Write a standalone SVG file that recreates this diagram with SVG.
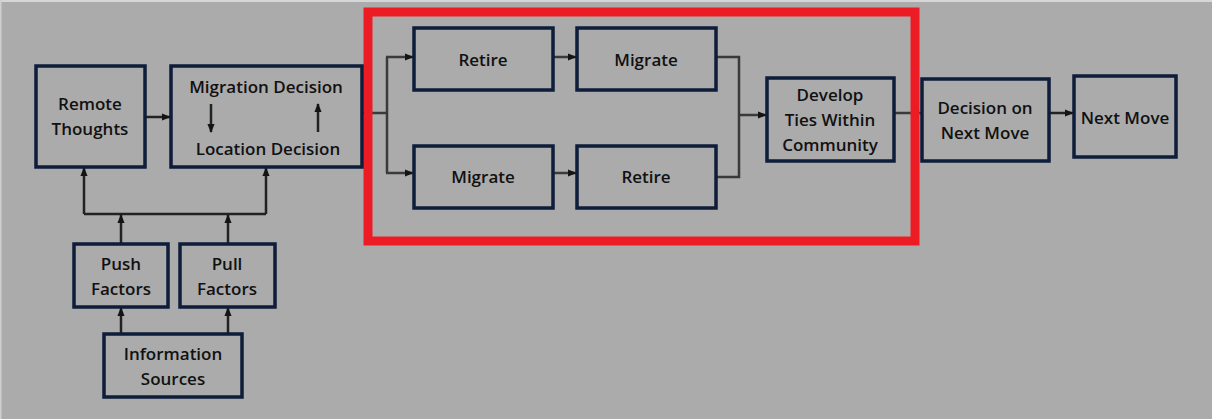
<svg xmlns="http://www.w3.org/2000/svg" width="1212" height="419" viewBox="0 0 1212 419">
  <defs>
    <marker id="arrow" viewBox="0 0 10 10" refX="9" refY="5" markerWidth="9" markerHeight="9" markerUnits="userSpaceOnUse" orient="auto">
      <path d="M0,1 L10,5 L0,9 Z" fill="#141414"/>
    </marker>
    <style>
      .box { fill: none; stroke: #0e1d3a; stroke-width: 3.5; }
      .lbl { font-family: "Open Sans", "Liberation Sans", sans-serif; font-weight: 600; font-size: 17px; fill: #111111; text-anchor: middle; }
      .wire { fill: none; stroke: #222222; stroke-width: 2.5; }
      .wire2 { fill: none; stroke: #3a3a3a; stroke-width: 2.5; }
      .frame { fill: none; stroke: #ed1c24; stroke-width: 9; }
    </style>
  </defs>

  <!-- backdrop -->
  <rect x="0" y="0" width="1212" height="419" fill="#ababab"/>
  <rect x="0" y="0" width="1212" height="2" fill="#d6d6d6"/>
  <rect x="0" y="0" width="1.5" height="419" fill="#cfcfcf"/>

  <!-- connectors -->
  <g id="connectors">
    <line class="wire" x1="145" y1="117" x2="170" y2="117" marker-end="url(#arrow)"/>
    <!-- push/pull feed into the upper boxes -->
    <polyline class="wire" points="84,214 266,214"/>
    <line class="wire" x1="84" y1="214" x2="84" y2="168" marker-end="url(#arrow)"/>
    <line class="wire" x1="266" y1="214" x2="266" y2="168" marker-end="url(#arrow)"/>
    <line class="wire" x1="121" y1="244" x2="121" y2="215" marker-end="url(#arrow)"/>
    <line class="wire" x1="228" y1="244" x2="228" y2="215" marker-end="url(#arrow)"/>
    <line class="wire" x1="121" y1="334" x2="121" y2="308" marker-end="url(#arrow)"/>
    <line class="wire" x1="228" y1="334" x2="228" y2="308" marker-end="url(#arrow)"/>
    <!-- inner arrows of the decision box -->
    <line class="wire" x1="211" y1="104" x2="211" y2="132" stroke-width="3" marker-end="url(#arrow)"/>
    <line class="wire" x1="318" y1="132" x2="318" y2="104" stroke-width="3" marker-end="url(#arrow)"/>
    <!-- split into the two paths -->
    <polyline class="wire2" points="362,113 387,113"/>
    <polyline class="wire2" points="387,57 387,173"/>
    <line class="wire2" x1="386" y1="57" x2="413" y2="57" marker-end="url(#arrow)"/>
    <line class="wire2" x1="386" y1="173" x2="413" y2="173" marker-end="url(#arrow)"/>
    <line class="wire2" x1="553" y1="57" x2="576" y2="57" marker-end="url(#arrow)"/>
    <line class="wire2" x1="553" y1="173" x2="576" y2="173" marker-end="url(#arrow)"/>
    <!-- merge -->
    <polyline class="wire2" points="716,57 739,57 739,177 716,177"/>
    <line class="wire2" x1="739" y1="115" x2="766" y2="115" marker-end="url(#arrow)"/>
    <line class="wire2" x1="894" y1="113" x2="922" y2="113"/>
    <line class="wire" x1="1049" y1="113" x2="1073" y2="113" marker-end="url(#arrow)"/>
  </g>

  <!-- highlight frame -->
  <rect class="frame" x="368" y="12" width="547" height="229"/>

  <g id="remote-thoughts">
    <rect class="box" x="36" y="66" width="109" height="101"/>
    <text class="lbl" x="90" y="110">Remote</text>
    <text class="lbl" x="90" y="135">Thoughts</text>
  </g>
  <g id="migration-decision">
    <rect class="box" x="171" y="66" width="191" height="101"/>
    <text class="lbl" x="266" y="93">Migration Decision</text>
    <text class="lbl" x="268" y="155">Location Decision</text>
  </g>
  <g id="push-factors">
    <rect class="box" x="74" y="244" width="94" height="63"/>
    <text class="lbl" x="121" y="270">Push</text>
    <text class="lbl" x="121" y="295">Factors</text>
  </g>
  <g id="pull-factors">
    <rect class="box" x="180" y="244" width="95" height="63"/>
    <text class="lbl" x="227" y="270">Pull</text>
    <text class="lbl" x="227" y="295">Factors</text>
  </g>
  <g id="information-sources">
    <rect class="box" x="104" y="334" width="138" height="63"/>
    <text class="lbl" x="173" y="360">Information</text>
    <text class="lbl" x="173" y="385">Sources</text>
  </g>
  <g id="retire-1">
    <rect class="box" x="414" y="28" width="139" height="62"/>
    <text class="lbl" x="483" y="66">Retire</text>
  </g>
  <g id="migrate-1">
    <rect class="box" x="577" y="28" width="139" height="62"/>
    <text class="lbl" x="646" y="66">Migrate</text>
  </g>
  <g id="migrate-2">
    <rect class="box" x="414" y="146" width="139" height="62"/>
    <text class="lbl" x="483" y="183">Migrate</text>
  </g>
  <g id="retire-2">
    <rect class="box" x="577" y="146" width="139" height="62"/>
    <text class="lbl" x="646" y="183">Retire</text>
  </g>
  <g id="develop-ties">
    <rect class="box" x="767" y="78" width="127" height="83"/>
    <text class="lbl" x="830" y="101">Develop</text>
    <text class="lbl" x="830" y="126">Ties Within</text>
    <text class="lbl" x="830" y="151">Community</text>
  </g>
  <g id="decision-next-move">
    <rect class="box" x="922" y="79" width="127" height="82"/>
    <text class="lbl" x="985" y="114">Decision on</text>
    <text class="lbl" x="985" y="139">Next Move</text>
  </g>
  <g id="next-move">
    <rect class="box" x="1074" y="76" width="102" height="81"/>
    <text class="lbl" x="1125" y="124">Next Move</text>
  </g>
</svg>
